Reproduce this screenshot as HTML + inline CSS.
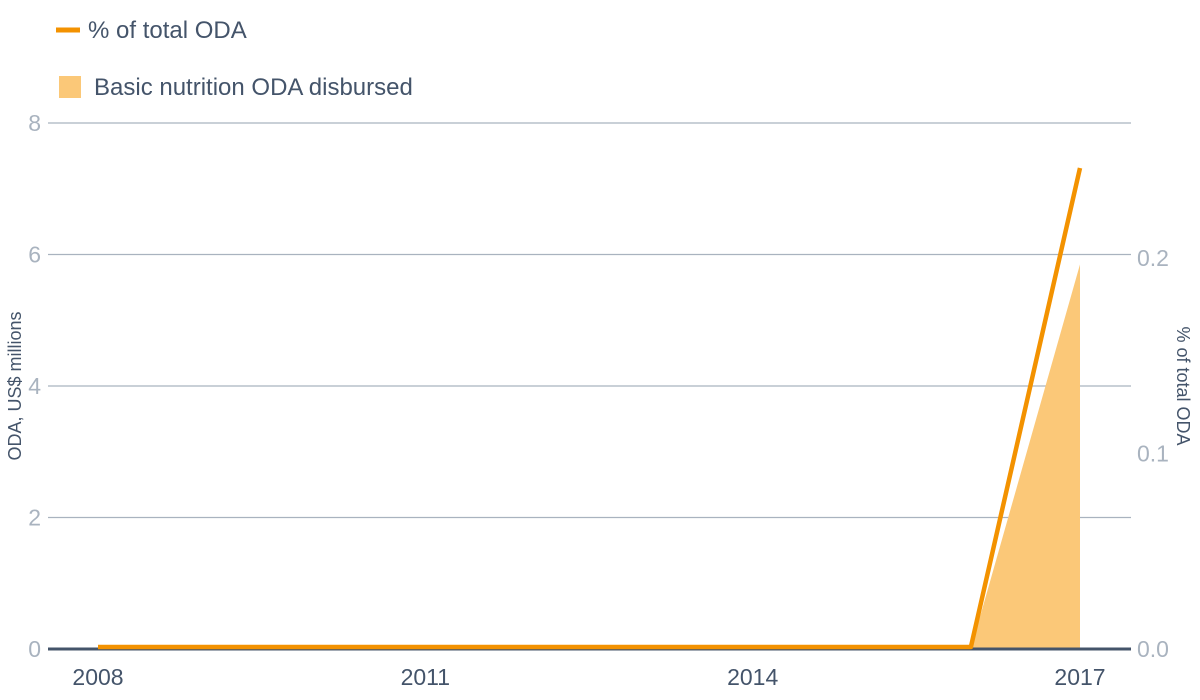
<!DOCTYPE html>
<html><head><meta charset="utf-8">
<style>
html,body{margin:0;padding:0;background:#fff;}
svg{display:block;font-family:"Liberation Sans",sans-serif;}
</style></head>
<body>
<svg id="chart" width="1200" height="700">
  <g>
    <line x1="56" y1="30" x2="80" y2="30" stroke="#f39200" stroke-width="5"/>
    <text x="88" y="38" font-size="24" fill="#44546a">% of total ODA</text>
    <rect x="59" y="76" width="22" height="22" fill="#fbc878"/>
    <text x="94" y="95" font-size="24" fill="#44546a">Basic nutrition ODA disbursed</text>
  </g>
  <g id="grid"></g>
  <g id="marks"></g>
  <text transform="translate(21,386) rotate(-90)" text-anchor="middle" font-size="18" fill="#44546a">ODA, US$ millions</text>
  <text transform="translate(1177,386) rotate(90)" text-anchor="middle" font-size="18" fill="#44546a">% of total ODA</text>
</svg>
<script>
const years = [2008,2009,2010,2011,2012,2013,2014,2015,2016,2017];
const odaValues = [0,0,0,0,0,0,0,0,0,5.85];
const pctValues = [0,0,0,0,0,0,0,0,0,0.245];
const leftTicks = [0,2,4,6,8];
const rightTicks = ["0.0","0.1","0.2"];
const xTickYears = [2008,2011,2014,2017];

const NS="http://www.w3.org/2000/svg";
const x0=98,x1=1080,yBase=649,yTop=123;
function xs(y){return x0+(y-2008)*(x1-x0)/9;}
function yl(v){return yBase-v*(yBase-yTop)/8;}
function yr(v){return yBase-v*1955;}
function mk(tag,attrs,parent){const e=document.createElementNS(NS,tag);for(const k in attrs)e.setAttribute(k,attrs[k]);parent.appendChild(e);return e;}
const grid=document.getElementById('grid'),marks=document.getElementById('marks');

leftTicks.forEach(t=>{
  if(t!==0){const l=mk('line',{x1:48,x2:1131,y1:yl(t),y2:yl(t),stroke:'#a9b3bf','stroke-width':1.3},grid);
  
  }
  const tx=mk('text',{x:41,y:yl(t)+8,'text-anchor':'end','font-size':23,fill:'#a9b3bf'},grid);
  tx.textContent=t;
  
  
});
rightTicks.forEach(t=>{
  const tx=mk('text',{x:1137,y:yr(parseFloat(t))+8,'font-size':23,fill:'#a9b3bf'},grid);
  tx.textContent=t;
  
  
});
xTickYears.forEach(y=>{
  const tx=mk('text',{x:xs(y),y:685,'text-anchor':'middle','font-size':23,fill:'#44546a'},grid);
  tx.textContent=y;
  
  
});

let d='M'+xs(years[0])+','+yl(0);
years.forEach((y,i)=>{d+=' L'+xs(y)+','+yl(odaValues[i]);});
d+=' L'+xs(years[years.length-1])+','+yl(0)+' Z';
const area=mk('path',{d:d,fill:'#fbc878'},marks);



const base=mk('line',{x1:48,x2:1131,y1:yBase,y2:yBase,stroke:'#44546a','stroke-width':3},marks);



const pts=years.map((y,i)=>xs(y)+','+(yr(pctValues[i])-2)).join(' ');
const line=mk('polyline',{points:pts,fill:'none',stroke:'#f39200','stroke-width':4.5,'stroke-linejoin':'round'},marks);


</script>
</body></html>
